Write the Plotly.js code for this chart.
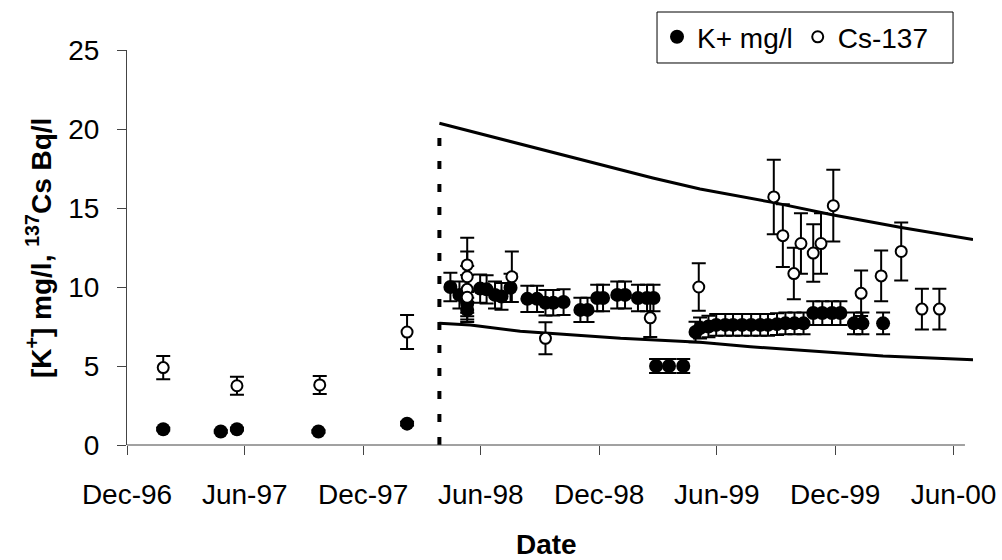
<!DOCTYPE html>
<html><head><meta charset="utf-8">
<script src="https://cdn.plot.ly/plotly-3.0.1.min.js"></script>
<style>html,body{margin:0;padding:0;background:#fff}</style>
</head><body><div id="chart" style="width:1002px;height:560px"></div>
<script>
// ---- data ----
var kDates = [
'1997-01-26','1997-04-25','1997-05-20','1997-09-23','1998-02-07',
'1998-04-15','1998-04-29','1998-05-11','1998-05-11','1998-05-31','1998-06-10','1998-06-23','1998-07-03','1998-07-17',
'1998-08-12','1998-08-27','1998-09-09','1998-09-21','1998-10-07','1998-11-02','1998-11-13','1998-11-28','1998-12-07',
'1998-12-29','1999-01-10','1999-01-30','1999-02-13','1999-02-23','1999-02-27','1999-03-19','1999-04-10',
'1999-04-29','1999-05-06','1999-05-19','1999-05-31','1999-06-14','1999-06-26','1999-07-10','1999-07-24','1999-08-07',
'1999-08-19','1999-09-02','1999-09-15','1999-09-29','1999-10-13','1999-10-28','1999-11-11','1999-11-26','1999-12-09',
'1999-12-30','2000-01-12','2000-02-13'];
var kValues = [1.0,0.85,1.0,0.85,1.35,
10.0,9.5,8.95,8.55,9.9,9.85,9.5,9.4,9.95,
9.25,9.25,9.0,9.0,9.05,8.55,8.55,9.3,9.3,
9.5,9.5,9.3,9.3,9.3,5.0,5.0,5.0,
7.15,7.4,7.5,7.6,7.6,7.6,7.6,7.6,7.6,
7.6,7.65,7.7,7.7,7.7,8.35,8.35,8.35,8.35,
7.7,7.7,7.7];

var csDates = ['1997-01-26','1997-05-20','1997-09-25','1998-02-07',
'1998-05-11','1998-05-11','1998-05-11','1998-05-11','1998-07-19','1998-09-09','1999-02-18','1999-05-04',
'1999-08-28','1999-09-11','1999-09-28','1999-10-09','1999-10-28','1999-11-09','1999-11-28',
'2000-01-10','2000-02-10','2000-03-12','2000-04-13','2000-05-10'];
var csValues = [4.9,3.75,3.8,7.15,
11.4,10.65,9.85,9.35,10.65,6.75,8.05,10.0,
15.7,13.25,10.85,12.75,12.15,12.75,15.15,
9.6,10.7,12.25,8.6,8.6];

var upperDates = ['1998-03-29','1998-08-01','1998-11-12','1999-02-22','1999-05-06','1999-08-28','1999-11-28','2000-03-12','2000-07-01'];
var upperValues = [20.36,19.05,17.95,16.9,16.2,15.34,14.56,13.76,13.0];

var lowerDates = ['1998-03-29','1998-05-16','1998-08-01','1998-10-17','1999-01-03','1999-03-21','1999-05-06','1999-07-23','1999-11-03','2000-02-13','2000-07-01'];
var lowerValues = [7.7,7.6,7.2,6.96,6.75,6.6,6.5,6.22,5.9,5.63,5.4];

var markerDate = '1998-03-29';
var markerTop = 20.36;

var tickDates = ['1996-12-01','1997-06-01','1997-12-01','1998-06-01','1998-12-01','1999-06-01','1999-12-01','2000-06-01'];
var tickLabels = ['Dec-96','Jun-97','Dec-97','Jun-98','Dec-98','Jun-99','Dec-99','Jun-00'];
var yTicks = [0,5,10,15,20,25];

// ---- chart ----
var FONT = 'Liberation Sans, Arial, sans-serif';

var traces = [
  {x: upperDates, y: upperValues, mode: 'lines', line: {color: '#000', width: 3}, showlegend: false, hoverinfo: 'skip'},
  {x: lowerDates, y: lowerValues, mode: 'lines', line: {color: '#000', width: 3}, showlegend: false, hoverinfo: 'skip'},
  {x: kDates, y: kValues, mode: 'markers', name: 'K+ mg/l',
   marker: {symbol: 'circle', size: 14, color: '#000'},
   error_y: {type: 'percent', value: 9, color: '#000', thickness: 2, width: 7}},
  {x: csDates, y: csValues, mode: 'markers', name: 'Cs-137',
   marker: {symbol: 'circle', size: 11, color: '#fff', line: {color: '#000', width: 2}},
   error_y: {type: 'percent', value: 15, color: '#000', thickness: 2, width: 7}}
];

var layout = {
  width: 1002, height: 560,
  margin: {l: 127, r: 29, t: 50, b: 115},
  paper_bgcolor: '#fff', plot_bgcolor: '#fff',
  font: {family: FONT, size: 28, color: '#000'},
  showlegend: true,
  legend: {orientation: 'h', x: 0.6265, xanchor: 'left', y: 1.096, yanchor: 'top',
           borderwidth: 0, bgcolor: 'rgba(0,0,0,0)',
           font: {family: FONT, size: 28, color: '#000'}},
  xaxis: {type: 'date', range: ['1996-12-01', '2000-07-01'],
          tickmode: 'array', tickvals: tickDates, ticktext: tickLabels,
          ticks: 'outside', ticklen: 9, tickwidth: 1, tickcolor: '#444',
          showline: false, showgrid: false, zeroline: false,
          tickfont: {family: FONT, size: 28, color: '#000'}, ticklabelstandoff: 15},
  yaxis: {range: [0, 25], tickmode: 'array', tickvals: yTicks,
          ticks: 'outside', ticklen: 9, tickwidth: 1, tickcolor: '#444',
          showline: true, linecolor: '#444', linewidth: 1,
          showgrid: false, zeroline: false,
          tickfont: {family: FONT, size: 28, color: '#000'}, ticklabelstandoff: 12},
  shapes: [
    {type: 'line', xref: 'paper', yref: 'paper', x0: 0, x1: 0.9905, y0: 0, y1: 0,
     line: {color: '#444', width: 1}},
    {type: 'line', xref: 'x', yref: 'y', x0: markerDate, x1: markerDate, y0: 0, y1: markerTop,
     line: {color: '#000', width: 4, dash: '8px,15px'}, layer: 'below'},
    {type: 'rect', xref: 'paper', yref: 'paper', x0: 0.6265, x1: 0.9764, y0: 0.9671, y1: 1.0962,
     line: {color: '#000', width: 1}, fillcolor: 'rgba(0,0,0,0)'}
  ],
  annotations: [
    {xref: 'paper', yref: 'paper', x: 0.4953, y: -0.252, xanchor: 'center', yanchor: 'middle',
     text: '<b>Date</b>', showarrow: false, font: {family: FONT, size: 28, color: '#000'}},
    {xref: 'paper', yref: 'paper', x: -0.104, y: 0.4987, xanchor: 'center', yanchor: 'middle',
     textangle: -90, text: '<b>[K<sup>+</sup>] mg/l, <sup>137</sup>Cs Bq/l</b>', showarrow: false,
     font: {family: FONT, size: 28, color: '#000'}}
  ]
};

Plotly.newPlot('chart', traces, layout, {displayModeBar: false, staticPlot: true});
</script></body></html>
